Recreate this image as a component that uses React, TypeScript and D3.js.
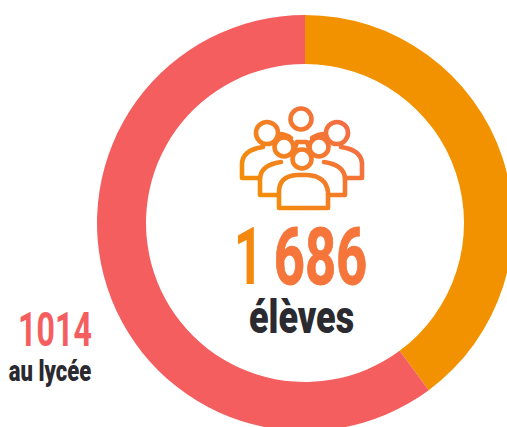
import React from 'react';
import { arc, pie } from 'd3';

const categories = ['au collège', 'au lycée'];
const values = [672, 1014];
const colors = ['#F39200', '#F55E5F'];
const totalFirst = '1';
const totalRest = '686';
const totalLabel = 'élèves';
const sideValue = '1014';
const sideLabel = 'au lycée';

const cx = 305, cy = 223, R = 208, r = 159;

const heads: [number, number, number][] = [
  [301, 119, 10.5], [267, 133, 11], [337, 133, 11],
  [284, 147, 9.5], [319, 147, 9.5], [302, 159, 9.5],
];
const bodies = [
  'M279 208 V192 Q279 176 297 175 H307 Q326 176 328 192 V208 Z',
  'M277 195 H260 V178 Q261 165 281 162',
  'M328 195 H345 V178 Q344 165 324 162',
  'M260 178 H242 V163 Q243 150 263 147',
  'M345 178 H362 V163 Q361 150 341 147',
  'M297 142 H307 L309 148',
  'M297 142 L295 148',
  'M279 134 Q286 134 291 138',
  'M325 134 Q318 134 312 138',
];

export default function App() {
  const slices = pie<number>().sort(null)(values);
  const a = arc<any>().innerRadius(r).outerRadius(R);
  return (
    <svg width={507} height={427} style={{ position: 'absolute', left: 0, top: 0, overflow: 'hidden' }}>
      <defs>
        <linearGradient id="g" gradientUnits="userSpaceOnUse" x1={250} y1={210} x2={360} y2={120}>
          <stop offset="0" stopColor="#F39200" />
          <stop offset="1" stopColor="#F4694B" />
        </linearGradient>
      </defs>
      <g transform={`translate(${cx},${cy})`}>
        {slices.map((s, i) => (
          <path key={categories[i]} d={a(s) as string} fill={colors[i]} />
        ))}
      </g>
      <g fill="none" stroke="url(#g)" strokeWidth={4.6} strokeLinejoin="round" strokeLinecap="round">
        {bodies.map((d, i) => (
          <path key={i} d={d} />
        ))}
        {heads.map(([x, y, hr], i) => (
          <circle key={i} cx={x} cy={y} r={hr} />
        ))}
      </g>
      <g fontFamily="Roboto" fontWeight={700} textAnchor="middle">
        <text transform="translate(248.5,284) scale(0.64,1)" fontSize={80} fill="#F5880F">{totalFirst}</text>
        <text transform="translate(320.5,284) scale(0.68,1)" fontSize={80} fill="#F5753A" stroke="#F5753A" strokeWidth={1}>{totalRest}</text>
        <text transform="translate(301.5,332.5) scale(0.765,1)" fontSize={47} fontWeight={900} fill="#2A2A30">{totalLabel}</text>
        <text transform="translate(55,346) scale(0.67,1)" fontSize={48} fill="#F55E5F">{sideValue}</text>
        <text transform="translate(50,381) scale(0.76,1)" fontSize={29} fontWeight={900} fill="#2A2A30">{sideLabel}</text>
      </g>
    </svg>
  );
}
